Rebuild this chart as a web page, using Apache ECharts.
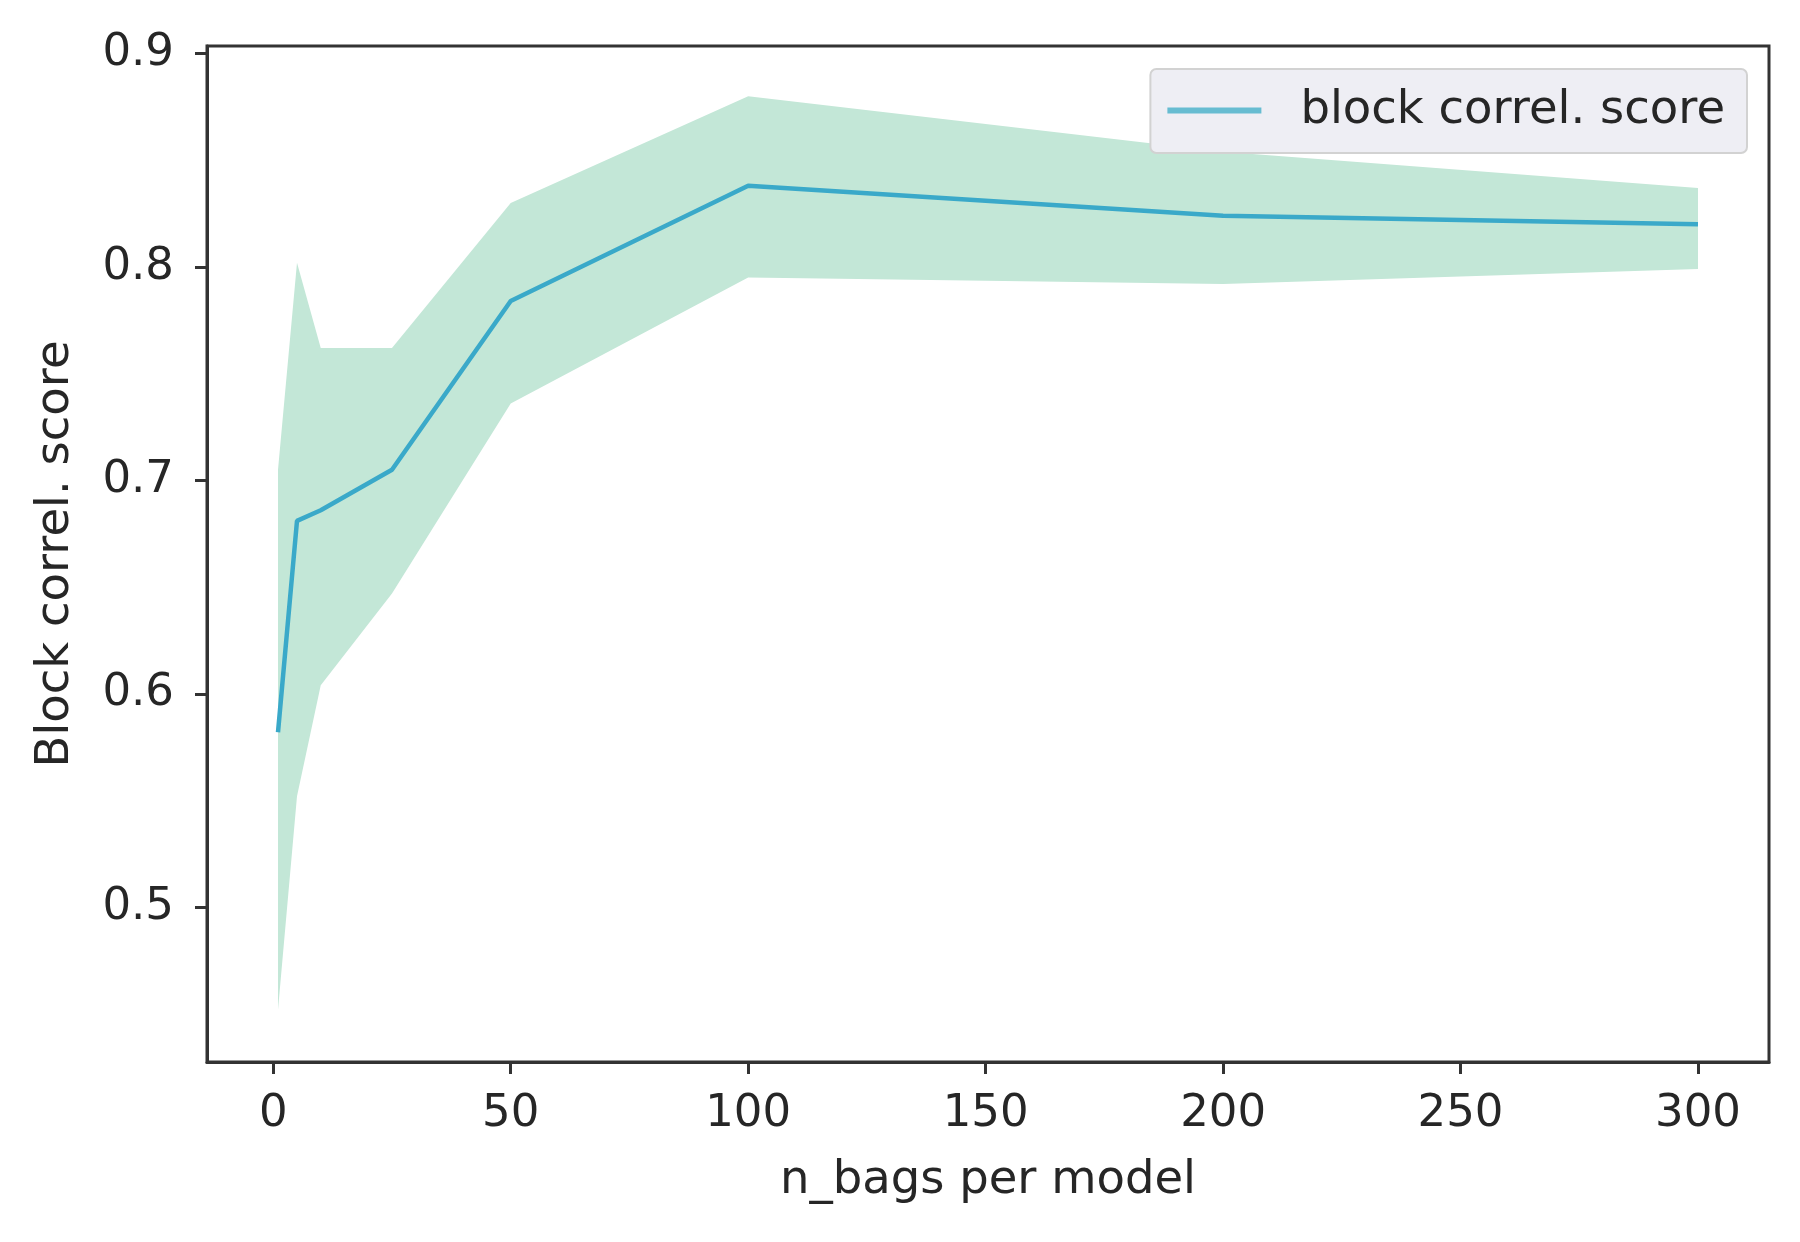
<!DOCTYPE html>
<html><head><meta charset="utf-8">
<script src="https://cdn.jsdelivr.net/npm/echarts@6/dist/echarts.min.js"></script>
<style>html,body{margin:0;padding:0;background:#fff}#c{width:1800px;height:1242px}</style>
</head><body><div id="c"></div>
<script>
const nBags = [1, 5, 10, 25, 50, 100, 200, 300];
const meanScore = [0.582, 0.681, 0.686, 0.705, 0.784, 0.838, 0.824, 0.820];
const upperScore = [0.705, 0.802, 0.762, 0.762, 0.830, 0.880, 0.854, 0.837];
const lowerScore = [0.452, 0.552, 0.604, 0.647, 0.736, 0.795, 0.792, 0.799];
const xTicks = [0, 50, 100, 150, 200, 250, 300];
const yTicks = [0.5, 0.6, 0.7, 0.8, 0.9];
const seriesName = 'block correl. score';
const xName = 'n_bags per model';
const yName = 'Block correl. score';

const FONT = 'DejaVu Sans';
const TXT = '#262626';
const AX = '#333333';

const chart = echarts.init(document.getElementById('c'), null, {renderer: 'canvas'});
chart.setOption({
  animation: false,
  backgroundColor: '#ffffff',
  grid: {left: 207, right: 31, top: 46, bottom: 180, show: true, borderColor: AX, borderWidth: 3, backgroundColor: 'transparent'},
  legend: {
    right: 53, top: 69,
    padding: [18, 22, 19, 17],
    backgroundColor: '#eeeef4',
    borderColor: '#d2d2d2', borderWidth: 2, borderRadius: 6,
    itemWidth: 94, itemHeight: 6,
    icon: 'rect',
    data: [{name: seriesName, itemStyle: {color: '#67bcd1'}}],
    textStyle: {fontFamily: FONT, fontSize: 46.5, color: TXT, padding: [0, 0, 0, 34]}
  },
  xAxis: {
    type: 'value', min: -13.95, max: 314.95,
    name: xName, nameLocation: 'middle', nameGap: 95,
    nameTextStyle: {fontFamily: FONT, fontSize: 46.5, color: TXT},
    axisLine: {show: true, onZero: false, lineStyle: {color: AX, width: 3}},
    axisTick: {show: true, length: 12, lineStyle: {color: AX, width: 3}, customValues: xTicks},
    axisLabel: {fontFamily: FONT, fontSize: 45, color: TXT, margin: 30, customValues: xTicks, formatter: v => String(v)},
    splitLine: {show: false}
  },
  yAxis: {
    type: 'value', min: 0.4275, max: 0.9035,
    name: yName, nameLocation: 'middle', nameGap: 128, nameRotate: 90,
    nameTextStyle: {fontFamily: FONT, fontSize: 46.5, color: TXT},
    axisLine: {show: true, onZero: false, lineStyle: {color: AX, width: 3}},
    axisTick: {show: true, length: 12, lineStyle: {color: AX, width: 3}, customValues: yTicks},
    axisLabel: {fontFamily: FONT, fontSize: 45, color: TXT, margin: 33, customValues: yTicks, formatter: v => v.toFixed(1)},
    splitLine: {show: false}
  },
  series: [
    {
      type: 'custom', name: 'band', silent: true, z: 1,
      data: nBags.map((x, i) => [x, upperScore[i], lowerScore[i]]),
      encode: {x: 0, y: [1, 2]},
      clip: true,
      renderItem: function (params, api) {
        if (params.dataIndex !== 0) return null;
        const pts = [];
        for (let i = 0; i < nBags.length; i++) pts.push(api.coord([nBags[i], upperScore[i]]));
        for (let i = nBags.length - 1; i >= 0; i--) pts.push(api.coord([nBags[i], lowerScore[i]]));
        return {type: 'polygon', shape: {points: pts}, style: {fill: '#c3e7d7'}};
      }
    },
    {
      type: 'line', name: seriesName, z: 3,
      data: nBags.map((x, i) => [x, meanScore[i]]),
      showSymbol: false, symbol: 'none',
      lineStyle: {color: '#3aa9c9', width: 4.5},
      itemStyle: {color: '#3aa9c9'}
    }
  ]
});
</script></body></html>
